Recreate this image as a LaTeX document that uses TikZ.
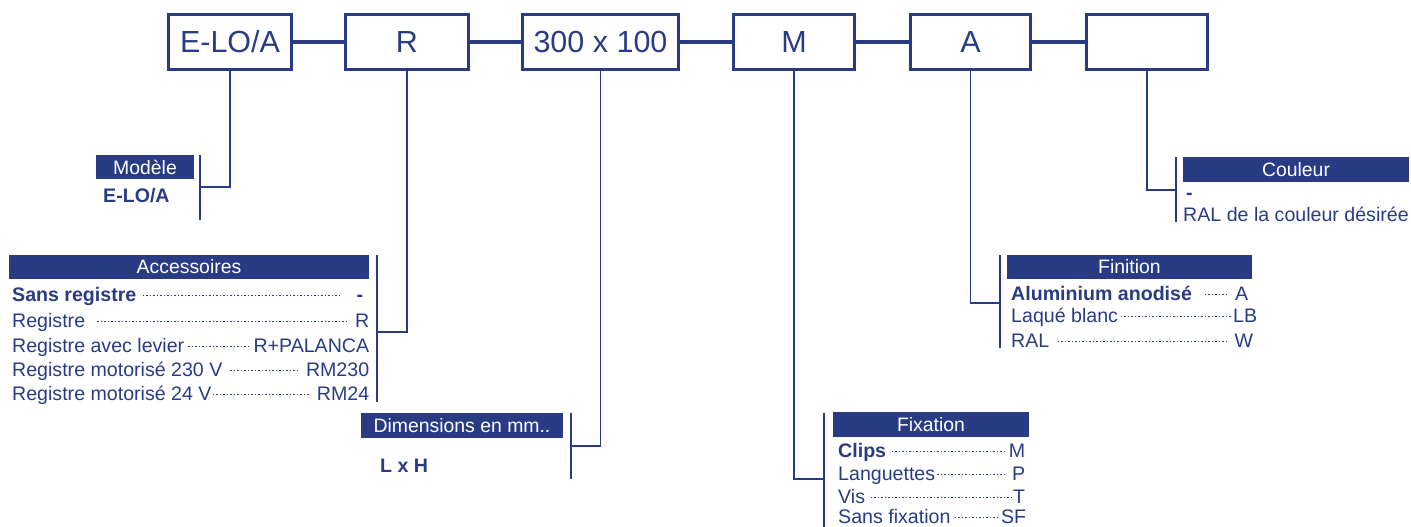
\documentclass[tikz,border=0pt]{standalone}
\usepackage{fontspec}
\setmainfont{Liberation Sans}
\definecolor{blu}{RGB}{41,60,131}
\newcommand\dleader{\leaders\hbox to 3.5pt{\hss\raisebox{4.8pt}{\rule{1.15pt}{1.15pt}}\hss}\hfill}
\newcommand\itemline[3]{\hbox to #1{#2\dleader#3}}
\tikzset{
  topbox/.style={draw=blu, line width=3.2pt, minimum height=55pt, inner sep=0pt, text=blu,
    font=\fontsize{30.5}{36}\selectfont},
  hdr/.style={fill=blu, text=white, inner sep=0pt, font=\fontsize{19.4}{22}\selectfont},
  itm/.style={anchor=base west, inner sep=0pt, text=blu, font=\fontsize{19.6}{22}\selectfont},
  thickline/.style={draw=blu, line width=3.2pt},
  thinline/.style={draw=blu, line width=1.6pt},
}
\begin{document}
\begin{tikzpicture}[x=1pt,y=-1pt]
\useasboundingbox (0,0) rectangle (1411,527);
% top boxes
\node[topbox, minimum width=123pt] (b1) at (230,42) {E-LO/A};
\node[topbox, minimum width=123pt] (b2) at (407,42) {R};
\node[topbox, minimum width=156pt] (b3) at (600.5,42) {300 x 100};
\node[topbox, minimum width=121pt] (b4) at (794,42) {M};
\node[topbox, minimum width=120pt] (b5) at (970.5,42) {A};
\node[topbox, minimum width=121pt] (b6) at (1147,42) {};
\draw[thickline] (b1.east) -- (b2.west);
\draw[thickline] (b2.east) -- (b3.west);
\draw[thickline] (b3.east) -- (b4.west);
\draw[thickline] (b4.east) -- (b5.west);
\draw[thickline] (b5.east) -- (b6.west);
% bars
\coordinate (m1) at (200,155); \coordinate (m2) at (200,220); \coordinate (mj) at (200,187);
\coordinate (a1) at (377,255); \coordinate (a2) at (377,402); \coordinate (aj) at (377,332);
\coordinate (d1) at (571,413); \coordinate (d2) at (571,479); \coordinate (dj) at (571,446);
\coordinate (f1) at (824,413); \coordinate (f2) at (824,527); \coordinate (fj) at (824,479);
\coordinate (n1) at (1000,255); \coordinate (n2) at (1000,348); \coordinate (nj) at (1000,303);
\coordinate (c1) at (1176,157); \coordinate (c2) at (1176,222); \coordinate (cj) at (1176,190);
\draw[thinline] (m1) -- (m2);
\draw[thinline] (a1) -- (a2);
\draw[thinline] (d1) -- (d2);
\draw[thinline] (f1) -- (f2);
\draw[thinline] (n1) -- (n2);
\draw[thinline] (c1) -- (c2);
\draw[thinline] (b1.south) |- (mj);
\draw[thinline] (b2.south) |- (aj);
\draw[thinline] (b3.south) |- (dj);
\draw[thinline] (b4.south) |- (fj);
\draw[thinline] (b5.south) |- (nj);
\draw[thinline] (b6.south) |- (cj);
% headers
\node[hdr, minimum width=98pt, minimum height=24pt] (hm) at (145,167) {Modèle};
\node[hdr, minimum width=360pt, minimum height=24pt] (ha) at (189,267) {Accessoires};
\node[hdr, minimum width=202pt, minimum height=25pt] (hd) at (462,425.5) {Dimensions en mm..};
\node[hdr, minimum width=196pt, minimum height=25pt] (hf) at (931,424.5) {Fixation};
\node[hdr, minimum width=245pt, minimum height=24pt] (hn) at (1129.5,267) {Finition};
\node[hdr, minimum width=226pt, minimum height=25pt] (hc) at (1296,169.5) {Couleur};
% Modèle
\node[itm] (m-i1) at (103,202) {\textbf{E-LO/A}};
% Accessoires
\node[itm] (a-i1) at (12,301) {\itemline{354pt}{\textbf{Sans registre}\hspace{5pt}}{\hspace{14pt}\textbf{-}\hspace{3pt}}};
\node[itm] (a-i2) at (12,327) {\itemline{357pt}{Registre\hspace{9pt}}{\hspace{6pt}R}};
\node[itm] (a-i3) at (12,352) {\itemline{357pt}{Registre avec levier}{R+PALANCA}};
\node[itm] (a-i4) at (12,376) {\itemline{357pt}{Registre motorisé 230 V\hspace{6pt}}{\hspace{6pt}RM230}};
\node[itm] (a-i5) at (12,400) {\itemline{357pt}{Registre motorisé 24 V}{\hspace{6pt}RM24}};
% Dimensions
\node[itm] (d-i1) at (380,472) {\textbf{L x H}};
% Fixation
\node[itm] (f-i1) at (838,457) {\itemline{187pt}{\textbf{Clips}\hspace{3pt}}{M}};
\node[itm] (f-i2) at (838,480) {\itemline{187pt}{Languettes}{\hspace{4pt}P}};
\node[itm] (f-i3) at (838,503) {\itemline{187pt}{Vis\hspace{4pt}}{T}};
\node[itm] (f-i4) at (838,523) {\itemline{188pt}{Sans fixation}{SF}};
% Finition
\node[itm] (n-i1) at (1011,300) {\itemline{237pt}{\textbf{Aluminium anodisé}\hspace{9pt}}{\hspace{4pt}A}};
\node[itm] (n-i2) at (1011,322) {\itemline{246pt}{Laqué blanc}{LB}};
\node[itm] (n-i3) at (1011,347) {\itemline{242pt}{RAL\hspace{5pt}}{\hspace{4pt}W}};
% Couleur
\node[itm] (c-i1) at (1186,199) {\textbf{-}};
\node[itm] (c-i2) at (1183,221) {RAL de la couleur désirée};
\end{tikzpicture}
\end{document}
